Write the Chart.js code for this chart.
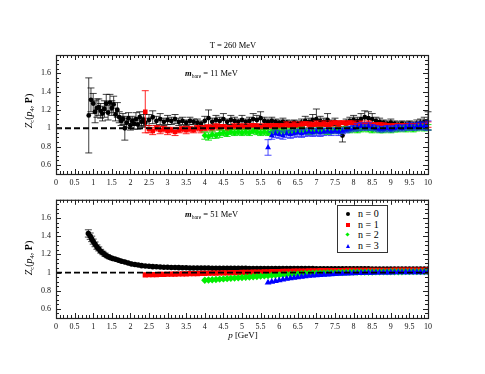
<!DOCTYPE html>
<html>
<head>
<meta charset="utf-8">
<script src="https://cdn.jsdelivr.net/npm/chart.js@4.4.1/dist/chart.umd.min.js"></script>
<style>
  body { margin: 0; background: #fff; }
  #wrap { position: relative; width: 485px; height: 374px; font-family: "Liberation Serif", "DejaVu Serif", serif; color: #000; }
  #wrap canvas { position: absolute; left: 0; }
  .txt { position: absolute; white-space: nowrap; line-height: 1; }
  .txt sub { font-size: 65%; vertical-align: -0.3em; }
  #legend { position: absolute; left: 337px; top: 205px; width: 49px; height: 46px; border: 1px solid #333; background: #fff; font-size: 10px; }
  #legend .row { position: absolute; left: 0; height: 10px; line-height: 10px; }
  #legend .mk { position: absolute; left: 8px; top: 3px; }
  #legend .lb { position: absolute; left: 20px; top: 0; white-space: nowrap; }
</style>
</head>
<body>
<div id="wrap">
  <canvas id="topChart" width="485" height="190" style="top:0"></canvas>
  <canvas id="bottomChart" width="485" height="184" style="top:190px"></canvas>

  <div class="txt" style="left:233px; top:45px; transform:translate(-50%,-50%); font-size:8.5px;">T = 260 MeV</div>
  <div class="txt" style="left:185px; top:74px; transform:translateY(-50%); font-size:8.5px;"><b><i>m</i></b><sub>bare</sub> = 11 MeV</div>
  <div class="txt" style="left:185px; top:215px; transform:translateY(-50%); font-size:8.5px;"><b><i>m</i></b><sub>bare</sub> = 51 MeV</div>
  <div class="txt" style="left:30px; top:111px; transform:translate(-50%,-50%) rotate(-90deg); font-size:10px;"><i>Z</i><sub>c</sub>(<i>p</i><sub>4</sub>, <b>P</b>)</div>
  <div class="txt" style="left:30px; top:258px; transform:translate(-50%,-50%) rotate(-90deg); font-size:10px;"><i>Z</i><sub>c</sub>(<i>p</i><sub>4</sub>, <b>P</b>)</div>
  <div class="txt" style="left:243px; top:335px; transform:translate(-50%,-50%); font-size:9px;"><i>p</i> [GeV]</div>

  <div id="legend"></div>
</div>

<script>
// tick labels
const xTicks = [0, 0.5, 1, 1.5, 2, 2.5, 3, 3.5, 4, 4.5, 5, 5.5, 6, 6.5, 7, 7.5, 8, 8.5, 9, 9.5, 10];
const yTicks = [0.6, 0.8, 1, 1.2, 1.4, 1.6];

// momenta shared by most series (GeV)
const pGrid = [
  2.4, 2.5, 2.6, 2.7, 2.8, 2.9, 3.0, 3.1, 3.2, 3.3,
  3.4, 3.5, 3.6, 3.7, 3.8, 3.9, 4.0, 4.1, 4.2, 4.3,
  4.4, 4.5, 4.6, 4.7, 4.8, 4.9, 5.0, 5.1, 5.2, 5.3,
  5.4, 5.5, 5.6, 5.7, 5.8, 5.9, 6.0, 6.1, 6.2, 6.3,
  6.4, 6.5, 6.6, 6.7, 6.8, 6.9, 7.0, 7.1, 7.2, 7.3,
  7.4, 7.5, 7.6, 7.7, 7.8, 7.9, 8.0, 8.1, 8.2, 8.3,
  8.4, 8.5, 8.6, 8.7, 8.8, 8.9, 9.0, 9.1, 9.2, 9.3,
  9.4, 9.5, 9.6, 9.7, 9.8, 9.9, 10.0
];

// ---- top panel, m_bare = 11 MeV ----
const pLowTop = [
  0.88, 0.94, 1.00, 1.05, 1.10, 1.15, 1.20, 1.25, 1.30, 1.35,
  1.40, 1.45, 1.50, 1.55, 1.60, 1.65, 1.70, 1.75, 1.80, 1.85,
  1.90, 1.95, 2.00, 2.05, 2.10, 2.15, 2.20, 2.25, 2.30, 2.35
];
const zTop0Low = [
  1.14, 1.31, 1.27, 1.18, 1.22, 1.23, 1.19, 1.16, 1.21, 1.27,
  1.17, 1.28, 1.22, 1.26, 1.15, 1.20, 1.12, 1.08, 1.10, 1.00,
  1.06, 1.11, 1.03, 1.08, 1.05, 1.10, 1.04, 1.12, 1.07, 1.09
];
const eTop0Low = [
  0.41, 0.13, 0.11, 0.12, 0.10, 0.09, 0.08, 0.08, 0.09, 0.10,
  0.08, 0.09, 0.08, 0.09, 0.07, 0.08, 0.06, 0.05, 0.06, 0.13,
  0.05, 0.06, 0.05, 0.05, 0.06, 0.07, 0.05, 0.06, 0.05, 0.06
];
const zTop0 = [
  1.06, 1.09, 1.12, 1.08, 1.10, 1.07, 1.09, 1.08, 1.10, 1.07,
  1.08, 1.06, 1.08, 1.07, 1.06, 1.05, 1.08, 1.11, 1.07, 1.09,
  1.08, 1.10, 1.07, 1.09, 1.08, 1.07, 1.09, 1.07, 1.08, 1.10,
  1.09, 1.11, 1.08, 1.07, 1.08, 1.07, 1.06, 1.07, 1.06, 1.05,
  1.06, 1.05, 1.06, 1.08, 1.07, 1.09, 1.10, 1.08, 1.07, 1.09,
  1.06, 1.07, 1.05, 0.92, 1.06, 1.08, 1.09, 1.08, 1.10, 1.12,
  1.11, 1.10, 1.08, 1.07, 1.06, 1.05, 1.06, 1.05, 1.04, 1.05,
  1.04, 1.05, 1.04, 1.05, 1.06, 1.07, 1.08
];
const eTop0 = [
  0.05, 0.06, 0.07, 0.05, 0.06, 0.04, 0.05, 0.04, 0.05, 0.04,
  0.04, 0.03, 0.04, 0.03, 0.04, 0.03, 0.05, 0.09, 0.04, 0.05,
  0.04, 0.06, 0.03, 0.05, 0.04, 0.03, 0.05, 0.03, 0.04, 0.06,
  0.05, 0.07, 0.04, 0.03, 0.04, 0.03, 0.03, 0.04, 0.03, 0.03,
  0.03, 0.03, 0.04, 0.05, 0.04, 0.06, 0.11, 0.05, 0.04, 0.07,
  0.03, 0.04, 0.03, 0.07, 0.04, 0.04, 0.05, 0.04, 0.06, 0.07,
  0.07, 0.06, 0.04, 0.04, 0.03, 0.03, 0.04, 0.03, 0.03, 0.03,
  0.03, 0.03, 0.03, 0.04, 0.04, 0.05, 0.10
];
const zTop1 = [
  1.18, 0.99, 0.97, 1.00, 0.98, 0.99, 0.97, 0.98, 0.96, 0.98,
  0.99, 0.98, 0.99, 0.98, 1.00, 0.99, 1.00, 1.01, 1.00, 1.02,
  1.01, 1.02, 1.00, 1.01, 1.02, 1.01, 1.02, 1.01, 1.02, 1.03,
  1.02, 1.01, 1.02, 1.03, 1.02, 1.03, 1.02, 1.03, 1.04, 1.03,
  1.04, 1.03, 1.04, 1.05, 1.04, 1.04, 1.05, 1.04, 1.05, 1.04,
  1.05, 1.06, 1.05, 1.06, 1.05, 1.06, 1.05, 1.04, 1.05, 1.04,
  1.05, 1.04, 1.03, 1.04, 1.03, 1.03, 1.02, 1.03, 1.02, 1.03,
  1.02, 1.03, 1.02, 1.03, 1.02, 1.03, 1.04
];
const eTop1 = [
  0.23, 0.04, 0.04, 0.03, 0.04, 0.03, 0.04, 0.03, 0.04, 0.03,
  0.03, 0.04, 0.03, 0.03, 0.03, 0.04, 0.03, 0.03, 0.03, 0.03,
  0.03, 0.02, 0.03, 0.02, 0.03, 0.02, 0.03, 0.02, 0.03, 0.02,
  0.03, 0.02, 0.03, 0.02, 0.03, 0.02, 0.03, 0.02, 0.03, 0.02,
  0.03, 0.02, 0.03, 0.02, 0.03, 0.02, 0.03, 0.02, 0.03, 0.02,
  0.03, 0.02, 0.03, 0.02, 0.03, 0.02, 0.03, 0.02, 0.03, 0.02,
  0.03, 0.02, 0.03, 0.02, 0.03, 0.02, 0.03, 0.02, 0.03, 0.02,
  0.03, 0.02, 0.03, 0.02, 0.03, 0.02, 0.03
];
const zTop2 = [
  0.92, 0.91, 0.93, 0.92, 0.94, 0.95, 0.94, 0.96, 0.95, 0.96,
  0.95, 0.96, 0.95, 0.97, 0.96, 0.95, 0.96, 0.95, 0.96, 0.97,
  0.96, 0.97, 0.96, 0.97, 0.96, 0.97, 0.98, 0.97, 0.96, 0.97,
  0.97, 0.98, 0.97, 0.96, 0.97, 0.98, 0.97, 0.98, 0.99, 0.98,
  0.99, 0.98, 0.99, 1.00, 0.99, 0.98, 0.99, 0.98, 0.98, 0.99,
  0.98, 0.99, 0.99, 1.00, 0.99, 1.00, 0.99, 1.00, 1.01, 1.00, 1.01
];
const eTop2 = [
  0.04, 0.04, 0.04, 0.03, 0.04, 0.03, 0.03, 0.03, 0.03, 0.03,
  0.03, 0.03, 0.03, 0.03, 0.03, 0.03, 0.03, 0.03, 0.03, 0.03,
  0.03, 0.03, 0.03, 0.03, 0.03, 0.03, 0.03, 0.03, 0.03, 0.03,
  0.03, 0.03, 0.03, 0.03, 0.03, 0.03, 0.03, 0.03, 0.03, 0.03,
  0.03, 0.03, 0.03, 0.03, 0.03, 0.03, 0.03, 0.03, 0.03, 0.03,
  0.03, 0.03, 0.03, 0.03, 0.03, 0.03, 0.03, 0.03, 0.03, 0.03, 0.03
];
const zTop3 = [
  0.79, 0.92, 0.94, 0.93, 0.92, 0.94, 0.93, 0.94, 0.95, 0.94,
  0.95, 0.96, 0.95, 0.96, 0.95, 0.96, 0.97, 0.96, 0.97, 0.96,
  0.97, 0.98, 0.99, 1.00, 1.01, 1.02, 1.01, 1.02, 1.01, 1.00,
  0.99, 0.99, 1.00, 0.99, 1.00, 1.01, 1.00, 1.01, 1.02, 1.01,
  1.02, 1.03, 1.02, 1.03
];
const eTop3 = [
  0.085, 0.04, 0.04, 0.04, 0.04, 0.04, 0.04, 0.04, 0.04, 0.04,
  0.04, 0.04, 0.04, 0.04, 0.04, 0.04, 0.03, 0.04, 0.03, 0.04,
  0.03, 0.03, 0.03, 0.03, 0.04, 0.04, 0.03, 0.04, 0.03, 0.03,
  0.03, 0.03, 0.03, 0.03, 0.03, 0.03, 0.03, 0.03, 0.04, 0.03,
  0.04, 0.04, 0.04, 0.05
];

// ---- bottom panel, m_bare = 51 MeV ----
const pLowBot = [
  0.87, 0.92, 0.96, 1.00, 1.05, 1.10, 1.15, 1.20, 1.26, 1.32, 1.38,
  1.45, 1.52, 1.60, 1.68, 1.76, 1.85, 1.94, 2.03, 2.12, 2.21, 2.30
];
const zBot0Low = [
  1.43, 1.40, 1.37, 1.34, 1.31, 1.28, 1.26, 1.235, 1.215, 1.195, 1.18,
  1.165, 1.155, 1.145, 1.135, 1.125, 1.115, 1.105, 1.095, 1.088, 1.082, 1.076
];
const eBot0Low = [
  0.04, 0.035, 0.03, 0.028, 0.026, 0.024, 0.022, 0.02, 0.019, 0.018, 0.017,
  0.016, 0.015, 0.014, 0.013, 0.012, 0.011, 0.01, 0.01, 0.009, 0.008, 0.008
];
const zBot0 = [
  1.072, 1.068, 1.065, 1.063, 1.061, 1.059, 1.057, 1.056, 1.055, 1.054,
  1.053, 1.052, 1.051, 1.051, 1.050, 1.050, 1.049, 1.049, 1.048, 1.048,
  1.048, 1.047, 1.047, 1.047, 1.046, 1.046, 1.046, 1.046, 1.045, 1.045,
  1.045, 1.045, 1.045, 1.044, 1.044, 1.044, 1.044, 1.044, 1.044, 1.043,
  1.043, 1.043, 1.043, 1.043, 1.043, 1.043, 1.042, 1.042, 1.042, 1.042,
  1.042, 1.042, 1.042, 1.042, 1.041, 1.041, 1.041, 1.041, 1.041, 1.041,
  1.041, 1.040, 1.040, 1.040, 1.040, 1.040, 1.040, 1.039, 1.039, 1.039,
  1.039, 1.039, 1.038, 1.038, 1.038, 1.038, 1.038
];
const zBot1 = [
  0.975, 0.976, 0.977, 0.978, 0.979, 0.980, 0.981, 0.982, 0.983, 0.984,
  0.985, 0.986, 0.987, 0.988, 0.989, 0.990, 0.991, 0.992, 0.993, 0.994,
  0.995, 0.996, 0.997, 0.998, 0.999, 1.000, 1.001, 1.002, 1.003, 1.004,
  1.005, 1.006, 1.007, 1.008, 1.009, 1.010, 1.011, 1.012, 1.013, 1.014,
  1.015, 1.016, 1.016, 1.017, 1.018, 1.018, 1.019, 1.020, 1.020, 1.021,
  1.021, 1.022, 1.022, 1.022, 1.023, 1.023, 1.023, 1.024, 1.024, 1.024,
  1.024, 1.025, 1.025, 1.025, 1.025, 1.025, 1.025, 1.026, 1.026, 1.026,
  1.026, 1.026, 1.026, 1.026, 1.026, 1.026, 1.026
];
const zBot2 = [
  0.915, 0.918, 0.921, 0.924, 0.927, 0.930, 0.933, 0.936, 0.939, 0.942,
  0.945, 0.948, 0.951, 0.954, 0.957, 0.960, 0.963, 0.966, 0.969, 0.972,
  0.975, 0.977, 0.979, 0.981, 0.983, 0.985, 0.987, 0.989, 0.991, 0.993,
  0.994, 0.995, 0.996, 0.997, 0.998, 0.999, 1.000, 1.001, 1.002, 1.003,
  1.004, 1.004, 1.005, 1.005, 1.006, 1.006, 1.007, 1.007, 1.008, 1.008,
  1.009, 1.009, 1.009, 1.009, 1.010, 1.010, 1.010, 1.010, 1.010, 1.010, 1.010
];
const zBot3 = [
  0.890, 0.898, 0.906, 0.914, 0.922, 0.930, 0.937, 0.943, 0.949, 0.954,
  0.959, 0.963, 0.967, 0.970, 0.973, 0.976, 0.979, 0.982, 0.984, 0.986,
  0.988, 0.990, 0.991, 0.993, 0.994, 0.995, 0.996, 0.997, 0.998, 0.999,
  1.000, 1.000, 1.001, 1.001, 1.002, 1.002, 1.002, 1.003, 1.003, 1.003,
  1.003, 1.003, 1.004, 1.004
];

const refLevel = 1;

const seriesStyle = [
  { label: 'n = 0', color: '#000000', err: 'rgba(0,0,0,0.75)', shape: 'circle', r: 2.4 },
  { label: 'n = 1', color: '#ff0000', err: 'rgba(255,0,0,0.85)', shape: 'rect', r: 3.2 },
  { label: 'n = 2', color: '#00ee00', err: 'rgba(0,225,0,0.85)', shape: 'rectRot', r: 3.2 },
  { label: 'n = 3', color: '#0000ff', err: 'rgba(30,30,255,0.8)', shape: 'triangle', r: 3.4 }
];

function points(xs, ys, es) {
  return xs.map((x, i) => ({ x: x, y: ys[i], e: es ? es[i] : 0 }));
}

// error bars are drawn right before each dataset's own markers
const errorBars = {
  id: 'errorBars',
  beforeDatasetDraw(chart, args) {
    const ds = chart.data.datasets[args.index];
    if (!ds.errColor) return;
    const y = chart.scales.y;
    const ctx = chart.ctx;
    ctx.save();
    ctx.strokeStyle = ds.errColor;
    ctx.lineWidth = 1;
    ctx.beginPath();
    args.meta.data.forEach((pt, i) => {
      const d = ds.data[i];
      if (!d.e) return;
      const top = y.getPixelForValue(d.y + d.e);
      const bot = y.getPixelForValue(d.y - d.e);
      ctx.moveTo(pt.x, top); ctx.lineTo(pt.x, bot);
      ctx.moveTo(pt.x - 3.5, top); ctx.lineTo(pt.x + 3.5, top);
      ctx.moveTo(pt.x - 3.5, bot); ctx.lineTo(pt.x + 3.5, bot);
    });
    ctx.stroke();
    ctx.restore();
  }
};

// box frame with inward ticks on all four sides
const frameTicks = {
  id: 'frameTicks',
  afterDraw(chart) {
    const { ctx, chartArea: a, scales } = chart;
    ctx.save();
    ctx.strokeStyle = '#222';
    ctx.lineWidth = 1;
    ctx.beginPath();
    for (let i = 0; i <= 100; i++) {
      const px = Math.round(scales.x.getPixelForValue(i / 10)) + 0.5;
      const len = i % 5 === 0 ? 5 : 3;
      ctx.moveTo(px, a.bottom); ctx.lineTo(px, a.bottom - len);
      ctx.moveTo(px, a.top); ctx.lineTo(px, a.top + len);
    }
    for (let i = 10; i <= 36; i++) {
      const py = Math.round(scales.y.getPixelForValue(i * 0.05)) + 0.5;
      const len = i % 4 === 0 ? 5 : 3;
      ctx.moveTo(a.left, py); ctx.lineTo(a.left + len, py);
      ctx.moveTo(a.right, py); ctx.lineTo(a.right - len, py);
    }
    ctx.stroke();
    ctx.lineWidth = 1.2;
    ctx.strokeRect(a.left + 0.5, a.top + 0.5, a.right - a.left, a.bottom - a.top);
    ctx.restore();
  }
};

function buildChart(id, groups, padTop, xAxisHeight, sizeScale) {
  const datasets = groups.map((g, k) => ({
    type: 'scatter',
    label: seriesStyle[k].label,
    data: g,
    pointStyle: seriesStyle[k].shape,
    pointRadius: seriesStyle[k].r * sizeScale,
    backgroundColor: seriesStyle[k].color,
    borderColor: seriesStyle[k].color,
    borderWidth: 0,
    errColor: seriesStyle[k].err,
    order: 4 - k
  }));
  datasets.push({
    type: 'line',
    label: 'ref',
    data: [{ x: 0, y: refLevel }, { x: 10, y: refLevel }],
    borderColor: '#000',
    borderWidth: 1.8,
    borderDash: [6, 3],
    pointRadius: 0,
    order: 0
  });
  const tickFont = { family: 'Liberation Serif', size: 8 };
  return new Chart(document.getElementById(id), {
    type: 'scatter',
    data: { datasets: datasets },
    options: {
      responsive: false,
      animation: false,
      devicePixelRatio: 1,
      layout: { padding: { top: padTop, right: 57, left: 0, bottom: 0 } },
      plugins: { legend: { display: false }, tooltip: { enabled: false } },
      scales: {
        x: {
          type: 'linear', min: 0, max: 10,
          grid: { display: false, drawTicks: false },
          border: { display: false },
          afterBuildTicks: s => { s.ticks = xTicks.map(v => ({ value: v })); },
          afterFit: s => { s.height = xAxisHeight; },
          ticks: { color: '#111', font: tickFont, padding: 4, maxRotation: 0, autoSkip: false, callback: v => String(v) }
        },
        y: {
          type: 'linear', min: 0.5, max: 1.8,
          grid: { display: false, drawTicks: false },
          border: { display: false },
          afterBuildTicks: s => { s.ticks = yTicks.map(v => ({ value: v })); },
          afterFit: s => { s.width = 56; },
          ticks: { color: '#111', font: tickFont, padding: 5, callback: v => String(v) }
        }
      }
    },
    plugins: [errorBars, frameTicks]
  });
}

const topGroups = [
  points(pLowTop.concat(pGrid), zTop0Low.concat(zTop0), eTop0Low.concat(eTop0)),
  points(pGrid, zTop1, eTop1),
  points(pGrid.filter(p => p >= 4.0), zTop2, eTop2),
  points(pGrid.filter(p => p >= 5.7), zTop3, eTop3)
];
const bottomGroups = [
  points(pLowBot.concat(pGrid), zBot0Low.concat(zBot0), eBot0Low),
  points(pGrid, zBot1),
  points(pGrid.filter(p => p >= 4.0), zBot2),
  points(pGrid.filter(p => p >= 5.7), zBot3)
];

buildChart('topChart', topGroups, 55, 16, 1);
buildChart('bottomChart', bottomGroups, 9, 56, 1.15);

// legend box inside the lower panel
const legend = document.getElementById('legend');
const markerCss = {
  circle: 'width:4px;height:4px;border-radius:50%;',
  rect: 'width:4px;height:4px;',
  rectRot: 'width:3px;height:3px;transform:rotate(45deg);',
  triangle: ''
};
seriesStyle.forEach((s, i) => {
  const row = document.createElement('div');
  row.className = 'row';
  row.style.top = (3 + i * 10.5) + 'px';
  row.style.width = '49px';
  let mk;
  if (s.shape === 'triangle') {
    mk = '<span class="mk" style="width:0;height:0;border-left:2.5px solid transparent;border-right:2.5px solid transparent;border-bottom:4px solid ' + s.color + ';"></span>';
  } else {
    mk = '<span class="mk" style="' + markerCss[s.shape] + 'background:' + s.color + ';"></span>';
  }
  row.innerHTML = mk + '<span class="lb">' + s.label + '</span>';
  legend.appendChild(row);
});
</script>
</body>
</html>
